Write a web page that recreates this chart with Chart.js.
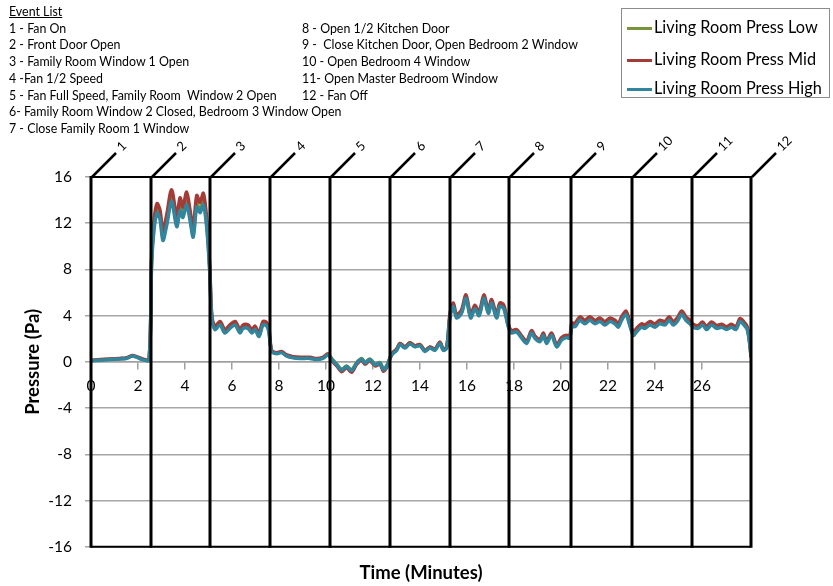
<!DOCTYPE html>
<html>
<head>
<meta charset="utf-8">
<script src="https://cdn.jsdelivr.net/npm/chart.js@4"></script>
<style>
  body { margin: 0; background: #fff; }
  #wrap { position: relative; width: 833px; height: 586px; font-family: Lato, "Open Sans", sans-serif; }
  #events { position: absolute; left: 9px; top: 4px; font-size: 12.4px; line-height: 16.7px; color: #000; }
  #events .col { position: absolute; top: 0; white-space: pre; }
  #legend { position: absolute; left: 621px; top: 8px; width: 209px; height: 90px; border: 1px solid #8c8c8c; box-sizing: border-box; font-size: 16.3px; }
  #legend .row { position: absolute; left: 5px; height: 20px; line-height: 20px; white-space: nowrap; }
  #legend .swatch { display: inline-block; width: 25px; height: 3px; vertical-align: middle; margin-right: 2px; }
</style>
</head>
<body>
<div id="wrap">
  <canvas id="chart" width="833" height="586"></canvas>
  <div id="events"></div>
  <div id="legend"></div>
</div>
<script>
// time in minutes
const times = [
  0, 0.4, 0.8, 1.2, 1.5, 1.75, 1.95, 2.2, 2.47,
  2.58, 2.68, 2.81, 2.94, 3.06, 3.22, 3.43, 3.65, 3.79, 3.91, 4.07, 4.21, 4.35, 4.5, 4.64, 4.78, 4.88, 4.97, 5.06,
  5.14, 5.28, 5.49, 5.7, 5.91, 6.13, 6.34, 6.47, 6.68, 6.85, 6.98, 7.15, 7.32, 7.48, 7.57,
  7.69, 7.9, 8.11, 8.33, 8.6, 8.89, 9.32, 9.6, 9.87, 10.09,
  10.24, 10.46, 10.67, 10.88, 11.09, 11.31, 11.52, 11.66, 11.87, 12.09, 12.3, 12.44, 12.58,
  12.8, 13.01, 13.15, 13.36, 13.57, 13.79, 14, 14.21, 14.43, 14.64, 14.85, 14.99, 15.14,
  15.28, 15.42, 15.56, 15.77, 15.96, 16.16, 16.34, 16.52, 16.72, 16.91, 17.05, 17.26, 17.4, 17.57,
  17.76, 17.9, 18.11, 18.33, 18.54, 18.75, 18.89, 19.11, 19.25, 19.39, 19.6, 19.82, 20.03, 20.24, 20.38,
  20.46, 20.6, 20.81, 21.02, 21.23, 21.45, 21.66, 21.87, 22.09, 22.3, 22.44, 22.58, 22.77, 22.91,
  23.08, 23.22, 23.43, 23.57, 23.79, 24, 24.21, 24.43, 24.61, 24.78, 24.95, 25.14, 25.32, 25.49,
  25.63, 25.84, 26.03, 26.2, 26.41, 26.63, 26.84, 27.05, 27.26, 27.45, 27.62, 27.79, 27.93, 28.04, 28.09
];

const pressLow = [
  0.12, 0.18, 0.22, 0.28, 0.32, 0.5, 0.42, 0.22, 0.18,
  8.8, 11.7, 13.2, 12.6, 10.8, 12.1, 14.2, 12.0, 13.4, 12.8, 13.9, 12.6, 11.1, 13.7, 13.2, 13.9, 12.8, 10.8, 7.7,
  3.9, 2.9, 3.3, 2.6, 3.0, 3.3, 2.6, 3.0, 3.0, 2.6, 2.9, 2.3, 3.3, 3.2, 2.7,
  0.95, 0.75, 0.85, 0.55, 0.4, 0.35, 0.35, 0.25, 0.35, 0.65,
  0.3, -0.2, -0.65, -0.35, -0.7, -0.05, 0.3, -0.05, 0.25, -0.2, -0.05, -0.6, -0.35,
  0.7, 1.1, 1.6, 1.3, 1.65, 1.4, 1.5, 1.0, 1.3, 1.1, 1.7, 1.1, 1.3,
  4.0, 4.9, 3.9, 4.3, 5.6, 3.9, 4.7, 4.1, 5.6, 4.3, 5.2, 3.9, 4.9, 4.7,
  3.15, 2.6, 2.7, 2.15, 1.7, 2.6, 2.15, 1.85, 2.4, 1.7, 2.4, 1.4, 2.0, 2.2, 2.15,
  3.15, 3.15, 3.7, 3.4, 3.7, 3.4, 3.6, 3.3, 3.6, 3.4, 3.1, 3.7, 4.2, 3.4,
  2.4, 2.7, 3.1, 3.0, 3.3, 3.1, 3.4, 3.3, 3.7, 3.3, 3.6, 4.2, 3.7, 3.4,
  3.1, 3.0, 3.3, 2.9, 3.3, 3.0, 3.1, 2.9, 3.1, 2.9, 3.6, 3.3, 2.9, 1.55, 0.5
];

const pressMid = [
  0.15, 0.2, 0.25, 0.3, 0.35, 0.55, 0.45, 0.25, 0.2,
  9.2, 12.2, 13.7, 13.1, 11.3, 12.7, 14.9, 12.6, 14.2, 13.4, 14.7, 13.2, 11.6, 14.4, 13.8, 14.6, 13.3, 11.2, 8.0,
  4.1, 3.1, 3.5, 2.8, 3.2, 3.5, 2.8, 3.2, 3.2, 2.8, 3.1, 2.5, 3.5, 3.4, 2.9,
  1.0, 0.8, 0.9, 0.6, 0.45, 0.4, 0.4, 0.3, 0.4, 0.7,
  0.15, -0.35, -0.85, -0.5, -0.9, -0.2, 0.15, -0.2, 0.1, -0.35, -0.2, -0.8, -0.5,
  0.7, 1.1, 1.6, 1.3, 1.65, 1.4, 1.5, 1.0, 1.3, 1.1, 1.7, 1.1, 1.3,
  4.2, 5.1, 4.1, 4.5, 5.8, 4.1, 4.9, 4.3, 5.8, 4.5, 5.4, 4.1, 5.1, 4.9,
  3.25, 2.7, 2.8, 2.25, 1.8, 2.7, 2.25, 1.95, 2.5, 1.8, 2.5, 1.5, 2.1, 2.3, 2.25,
  3.35, 3.35, 3.9, 3.6, 3.9, 3.6, 3.8, 3.5, 3.8, 3.6, 3.3, 3.9, 4.4, 3.6,
  2.6, 2.9, 3.3, 3.2, 3.5, 3.3, 3.6, 3.5, 3.9, 3.5, 3.8, 4.4, 3.9, 3.6,
  3.25, 3.15, 3.45, 3.05, 3.45, 3.15, 3.25, 3.05, 3.25, 3.05, 3.75, 3.45, 3.05, 1.6, 0.4
];

const pressHigh = [
  0.1, 0.15, 0.2, 0.25, 0.3, 0.5, 0.4, 0.2, 0.15,
  8.5, 11.4, 12.9, 12.3, 10.5, 11.8, 13.9, 11.7, 13.1, 12.5, 13.6, 12.3, 10.8, 13.4, 12.9, 13.6, 12.5, 10.5, 7.5,
  3.8, 2.8, 3.2, 2.5, 2.9, 3.2, 2.5, 2.9, 2.9, 2.5, 2.8, 2.2, 3.2, 3.1, 2.6,
  0.9, 0.7, 0.8, 0.5, 0.35, 0.3, 0.3, 0.2, 0.3, 0.6,
  0.25, -0.25, -0.7, -0.4, -0.75, -0.1, 0.25, -0.1, 0.2, -0.25, -0.1, -0.65, -0.4,
  0.6, 1.0, 1.5, 1.2, 1.55, 1.3, 1.4, 0.9, 1.2, 1.0, 1.6, 1.0, 1.2,
  3.9, 4.8, 3.8, 4.2, 5.5, 3.8, 4.6, 4.0, 5.5, 4.2, 5.1, 3.8, 4.8, 4.6,
  3.05, 2.5, 2.6, 2.05, 1.6, 2.5, 2.05, 1.75, 2.3, 1.6, 2.3, 1.3, 1.9, 2.1, 2.05,
  3.05, 3.05, 3.6, 3.3, 3.6, 3.3, 3.5, 3.2, 3.5, 3.3, 3.0, 3.6, 4.1, 3.3,
  2.3, 2.6, 3.0, 2.9, 3.2, 3.0, 3.3, 3.2, 3.6, 3.2, 3.5, 4.1, 3.6, 3.3,
  3.0, 2.9, 3.2, 2.8, 3.2, 2.9, 3.0, 2.8, 3.0, 2.8, 3.5, 3.2, 2.8, 1.5, 0.6
];

const eventTimes = [0, 2.55, 5.06, 7.62, 10.17, 12.72, 15.28, 17.8, 20.41, 23.04, 25.56, 28.09];
const eventLabels = ['1', '2', '3', '4', '5', '6', '7', '8', '9', '10', '11', '12'];

const eventListLeft = [
  '1 - Fan On',
  '2 - Front Door Open',
  '3 - Family Room Window 1 Open',
  '4 -Fan 1/2 Speed',
  '5 - Fan Full Speed, Family Room  Window 2 Open',
  '6- Family Room Window 2 Closed, Bedroom 3 Window Open',
  '7 - Close Family Room 1 Window'
];
const eventListRight = [
  '8 - Open 1/2 Kitchen Door',
  '9 -  Close Kitchen Door, Open Bedroom 2 Window',
  '10 - Open Bedroom 4 Window',
  '11- Open Master Bedroom Window',
  '12 - Fan Off'
];

const seriesNames = ['Living Room Press Low', 'Living Room Press Mid', 'Living Room Press High'];
const seriesColors = ['#77933c', '#a33b36', '#31859c'];

function toPoints(values) {
  return times.map((t, i) => ({ x: t, y: values[i] }));
}

// event list text
const ev = document.getElementById('events');
ev.innerHTML =
  '<div class="col" style="left:0"><u>Event List</u>\n' + eventListLeft.join('\n') + '</div>' +
  '<div class="col" style="left:293px">\n' + eventListRight.join('\n') + '</div>';

const eventPlugin = {
  id: 'events',
  afterDatasetsDraw(chart) {
    const { ctx, chartArea, scales } = chart;
    ctx.save();
    ctx.strokeStyle = '#000';
    ctx.lineWidth = 2;
    ctx.beginPath();
    ctx.moveTo(chartArea.left, chartArea.top);
    ctx.lineTo(chartArea.right, chartArea.top);
    ctx.moveTo(chartArea.left, chartArea.bottom);
    ctx.lineTo(chartArea.right, chartArea.bottom);
    ctx.stroke();
    ctx.font = '13px Lato, sans-serif';
    ctx.fillStyle = '#000';
    eventTimes.forEach((t, i) => {
      const x = Math.round(scales.x.getPixelForValue(t));
      ctx.lineWidth = 3;
      ctx.beginPath();
      ctx.moveTo(x, chartArea.top - 1);
      ctx.lineTo(x, chartArea.bottom + 1);
      ctx.stroke();
      ctx.lineWidth = 2.5;
      ctx.beginPath();
      ctx.moveTo(x + 1, chartArea.top);
      ctx.lineTo(x + 25, chartArea.top - 24);
      ctx.stroke();
      ctx.save();
      ctx.translate(x + 28, chartArea.top - 28);
      ctx.rotate(-Math.PI / 4);
      ctx.textAlign = 'left';
      ctx.textBaseline = 'middle';
      ctx.fillText(eventLabels[i], 0, 0);
      ctx.restore();
    });
    ctx.restore();
  }
};

const datasets = [pressLow, pressMid, pressHigh].map((vals, i) => ({
  label: seriesNames[i],
  data: toPoints(vals),
  borderColor: seriesColors[i],
  borderWidth: 3.5,
  pointRadius: 0,
  tension: 0.3,
  fill: false,
  order: 2 - i
}));

new Chart(document.getElementById('chart'), {
  type: 'line',
  data: { datasets },
  options: {
    responsive: false,
    animation: false,
    devicePixelRatio: 1,
    layout: { padding: { left: 18, top: 177, right: 82, bottom: 0 } },
    plugins: {
      legend: { display: false },
      tooltip: { enabled: false }
    },
    scales: {
      x: {
        type: 'linear',
        position: { y: 0 },
        min: 0,
        max: 28.09,
        afterBuildTicks: (s) => { s.ticks = s.ticks.filter((t) => t.value <= 26); },
        ticks: { stepSize: 2, color: '#000', font: { family: 'Lato', size: 15.5 }, padding: 8, maxRotation: 0 },
        grid: { drawOnChartArea: false, drawTicks: true, tickLength: 7, color: '#a0a0a0', lineWidth: 1.5 },
        border: { display: true, color: '#a0a0a0', width: 1.5 }
      },
      xTitle: {
        type: 'linear',
        position: 'bottom',
        min: 0,
        max: 28.09,
        ticks: { display: false },
        grid: { display: false, drawTicks: false },
        border: { display: false },
        title: {
          display: true,
          text: 'Time (Minutes)',
          color: '#000',
          font: { family: 'Lato', size: 18.5, weight: 'bold' },
          padding: { top: 15, bottom: 2 }
        }
      },
      y: {
        min: -16,
        max: 16,
        afterFit: (s) => { s.width = 73; },
        ticks: { stepSize: 4, color: '#000', font: { family: 'Lato', size: 15.5 }, padding: 13 },
        grid: { color: '#a6a6a6', lineWidth: 1.5, tickLength: 6 },
        border: { display: false },
        title: {
          display: true,
          text: 'Pressure (Pa)',
          color: '#000',
          font: { family: 'Lato', size: 18.5, weight: 'bold' },
          padding: { top: 4, bottom: 4 }
        }
      }
    }
  },
  plugins: [eventPlugin]
});

// legend box built from the dataset names and colours
document.getElementById('legend').innerHTML = seriesNames.map((name, i) =>
  `<div class="row" style="top:${[8, 40, 69][i]}px"><span class="swatch" style="background:${seriesColors[i]}"></span>${name}</div>`
).join('');
</script>
</body>
</html>
